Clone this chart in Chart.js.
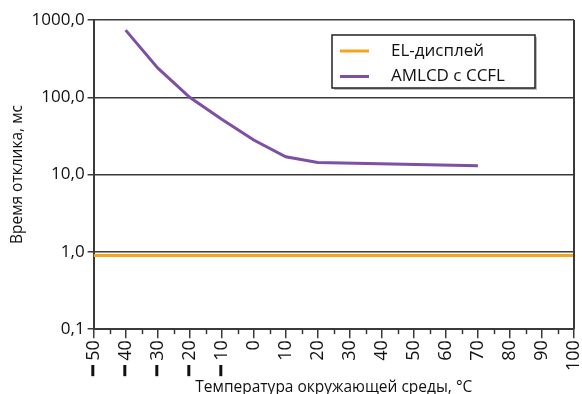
<!DOCTYPE html>
<html lang="ru">
<head>
    <meta charset="UTF-8">
    <title>Время отклика</title>
    <script src="https://cdn.jsdelivr.net/npm/chart.js"></script>
    <style>
        html, body { margin: 0; padding: 0; background: #fff; }
        #wrap { width: 582px; height: 394px; }
    </style>
</head>
<body>
    <div id="wrap"><canvas id="respChart"></canvas></div>

    <script>
        // data
        const elLabel = "EL-дисплей";
        const elTemps = [-50, 100];
        const elValues = [0.9, 0.9];

        const amlcdLabel = "AMLCD с CCFL";
        const amlcdTemps = [-40, -30, -20, -10, 0, 10, 20, 70];
        const amlcdValues = [740, 240, 100, 52, 28, 17, 14.3, 13];

        const yTicks = [0.1, 1, 10, 100, 1000];
        const xMin = -50, xMax = 100;

        const fontFamily = "'Open Sans', 'Noto Sans', sans-serif";
        const axisColor = "#3a3a3a";

        const toPoints = (xs, ys) => xs.map((x, i) => ({ x: x, y: ys[i] }));

        // minor ticks on x, right border, boxed legend
        const decorPlugin = {
            id: "decor",
            afterDraw(chart) {
                const ctx = chart.ctx;
                const area = chart.chartArea;
                const xs = chart.scales.x;
                ctx.save();
                ctx.strokeStyle = axisColor;
                ctx.lineWidth = 1.5;
                for (let v = xMin + 5; v < xMax; v += 10) {
                    const px = Math.round(xs.getPixelForValue(v)) + 0.5;
                    ctx.beginPath();
                    ctx.moveTo(px, area.bottom);
                    ctx.lineTo(px, area.bottom + 5);
                    ctx.stroke();
                }
                ctx.lineWidth = 2;
                ctx.beginPath();
                ctx.moveTo(area.right, area.top);
                ctx.lineTo(area.right, area.bottom);
                ctx.stroke();

                // legend
                const bx = area.right - 242, by = area.top + 15, bw = 203, bh = 53;
                ctx.fillStyle = "#bbb";
                ctx.fillRect(bx + 2, by + 2, bw, bh);
                ctx.fillStyle = "#fff";
                ctx.fillRect(bx, by, bw, bh);
                ctx.strokeStyle = "#222";
                ctx.lineWidth = 1.5;
                ctx.strokeRect(bx, by, bw, bh);
                ctx.font = "17px " + fontFamily;
                ctx.textBaseline = "middle";
                chart.data.datasets.forEach((ds, i) => {
                    const ly = by + 16 + i * 25.5;
                    ctx.strokeStyle = ds.borderColor;
                    ctx.lineWidth = 3;
                    ctx.beginPath();
                    ctx.moveTo(bx + 8, ly);
                    ctx.lineTo(bx + 37, ly);
                    ctx.stroke();
                    ctx.fillStyle = "#111";
                    ctx.fillText(ds.label, bx + 59, ly);
                });
                ctx.restore();
            }
        };

        const ctx = document.getElementById("respChart").getContext("2d");
        new Chart(ctx, {
            type: "line",
            data: {
                datasets: [
                    {
                        label: elLabel,
                        data: toPoints(elTemps, elValues),
                        borderColor: "#F6A31E",
                        borderWidth: 3,
                        pointRadius: 0,
                        fill: false
                    },
                    {
                        label: amlcdLabel,
                        data: toPoints(amlcdTemps, amlcdValues),
                        borderColor: "#7D4FA5",
                        borderWidth: 3,
                        pointRadius: 0,
                        fill: false
                    }
                ]
            },
            options: {
                responsive: true,
                maintainAspectRatio: false,
                animation: false,
                layout: { padding: { top: 20, right: 8, left: 3, bottom: -3 } },
                plugins: {
                    legend: { display: false },
                    tooltip: { enabled: false }
                },
                scales: {
                    x: {
                        type: "linear",
                        min: xMin,
                        max: xMax,
                        afterFit: s => { s.paddingRight = 0; s.paddingLeft = 0; },
                        grid: { drawOnChartArea: false, color: axisColor, lineWidth: 1.5, tickLength: 9 },
                        border: { color: axisColor, width: 2 },
                        ticks: {
                            stepSize: 10,
                            minRotation: 90,
                            maxRotation: 90,
                            padding: 2,
                            color: "#111",
                            font: { family: fontFamily, size: 18 },
                            callback: v => v < 0 ? "\u2501 " + Math.abs(v) : String(v)
                        },
                        title: {
                            display: true,
                            text: "Температура окружающей среды, °C",
                            color: "#111",
                            font: { family: fontFamily, size: 15.5 },
                            padding: { top: 0, bottom: 0 }
                        }
                    },
                    y: {
                        type: "logarithmic",
                        min: yTicks[0],
                        max: yTicks[yTicks.length - 1],
                        afterBuildTicks: scale => { scale.ticks = yTicks.map(v => ({ value: v })); },
                        grid: { color: axisColor, lineWidth: 1.5, tickLength: 6 },
                        border: { color: axisColor, width: 2 },
                        ticks: {
                            padding: 3,
                            color: "#111",
                            font: { family: fontFamily, size: 17 },
                            callback: v => Number(v).toFixed(1).replace(".", ",")
                        },
                        title: {
                            display: true,
                            text: "Время отклика, мс",
                            color: "#111",
                            font: { family: fontFamily, size: 15.5 },
                            padding: { top: 5, bottom: 2 }
                        }
                    }
                }
            },
            plugins: [decorPlugin]
        });
    </script>
</body>
</html>
